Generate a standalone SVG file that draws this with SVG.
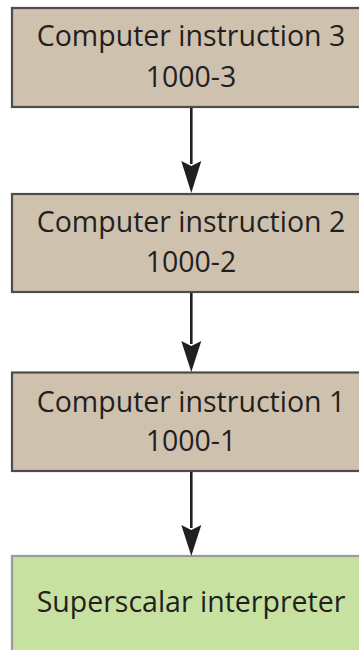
<svg xmlns="http://www.w3.org/2000/svg" width="359" height="650" viewBox="0 0 359 650">
  <style>
    .box { fill: #cec1ae; stroke: #4d4b4c; stroke-width: 2.2; }
    .boxg { fill: #c6e1a0; stroke: #9a9a9a; stroke-width: 2.2; }
    .lbl { font-family: "Open Sans", "Noto Sans", sans-serif; font-size: 28.5px; fill: #231f20; text-anchor: middle; }
    .edge { stroke: #231f20; stroke-width: 2.6; fill: none; }
  </style>
  <defs>
    <marker id="arrow" markerUnits="userSpaceOnUse" markerWidth="24" markerHeight="34" viewBox="0 0 20 31" refX="10" refY="31" orient="auto-start-reverse">
      <path d="M0,0 L10,5 L20,0 L10,31 Z" fill="#231f20"/>
    </marker>
  </defs>

  <g id="instr3">
    <rect class="box" x="12" y="8" width="360" height="99"/>
    <text class="lbl" x="191" y="46">Computer instruction 3</text>
    <text class="lbl" x="191" y="87">1000-3</text>
  </g>

  <g id="instr2">
    <rect class="box" x="12" y="194" width="360" height="98"/>
    <text class="lbl" x="191" y="232">Computer instruction 2</text>
    <text class="lbl" x="191" y="272">1000-2</text>
  </g>

  <g id="instr1">
    <rect class="box" x="12" y="372.5" width="360" height="98.5"/>
    <text class="lbl" x="191" y="411.5">Computer instruction 1</text>
    <text class="lbl" x="191" y="451">1000-1</text>
  </g>

  <g id="interpreter">
    <rect class="boxg" x="12" y="556" width="360" height="110"/>
    <text class="lbl" x="191" y="612">Superscalar interpreter</text>
  </g>

  <g id="connectors">
    <path class="edge" d="M191.3,108 V164" />
    <path d="M181.3,161 L191.3,166 L201.3,161 L191.3,193 Z" fill="#231f20"/>
    <path class="edge" d="M191.3,293 V344" />
    <path d="M181.3,341 L191.3,346 L201.3,341 L191.3,372 Z" fill="#231f20"/>
    <path class="edge" d="M191.3,472 V528" />
    <path d="M181.3,525 L191.3,530 L201.3,525 L191.3,556 Z" fill="#231f20"/>
  </g>
</svg>
